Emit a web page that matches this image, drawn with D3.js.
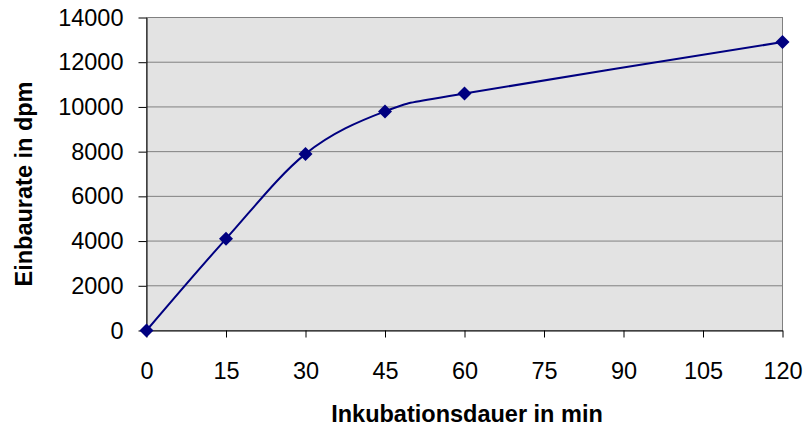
<!DOCTYPE html>
<html>
<head>
<meta charset="utf-8">
<script src="https://cdn.jsdelivr.net/npm/d3@7"></script>
<style>
  html, body { margin: 0; padding: 0; background: #fff; }
  svg { display: block; font-family: "Liberation Sans", Arial, sans-serif; }
</style>
</head>
<body>
<svg id="chart" width="808" height="429"></svg>
<script>
const minutes = [0, 15, 30, 45, 60, 120];
const dpm = [0, 4100, 7900, 9800, 10600, 12900];
const xTicks = [0, 15, 30, 45, 60, 75, 90, 105, 120];
const yTicks = [0, 2000, 4000, 6000, 8000, 10000, 12000, 14000];
const xTitle = "Inkubationsdauer in min";
const yTitle = "Einbaurate in dpm";

const svg = d3.select("#chart");
const L = 146.5, R = 782.5, T = 17.5, B = 330.5;

const x = d3.scaleLinear().domain([0, 120]).range([L, R]);
const y = d3.scaleLinear().domain([0, 14000]).range([B, T]);

svg.append("rect").attr("x", L).attr("y", T).attr("width", R - L).attr("height", B - T)
  .attr("fill", "#e3e3e3").attr("stroke", "#808080").attr("stroke-width", 1);

// gridlines
svg.append("g").selectAll("line").data(yTicks.filter(d => d > 0)).join("line")
  .attr("x1", L).attr("x2", R).attr("y1", d => y(d)).attr("y2", d => y(d))
  .attr("stroke", "#808080").attr("stroke-width", 1);

// y axis
const yAxis = svg.append("g").attr("transform", `translate(${L},0)`)
  .call(d3.axisLeft(y).tickValues(yTicks).tickSize(8).tickPadding(15).tickSizeOuter(0).tickFormat(d3.format("d")));
yAxis.select(".domain").attr("stroke", "#000");
yAxis.selectAll(".tick line").attr("stroke", "#000");
yAxis.selectAll("text").attr("font-size", 23.5).attr("fill", "#000")
  .attr("font-family", "'Liberation Sans', Arial, sans-serif");

// x axis
const xAxis = svg.append("g").attr("transform", `translate(0,${B})`)
  .call(d3.axisBottom(x).tickValues(xTicks).tickSize(7).tickPadding(25).tickSizeOuter(0));
xAxis.select(".domain").attr("stroke", "#000");
xAxis.selectAll(".tick line").attr("stroke", "#000");
xAxis.selectAll("text").attr("font-size", 23.5).attr("fill", "#000")
  .attr("font-family", "'Liberation Sans', Arial, sans-serif");

// line
const pts = minutes.map((m, i) => [m, dpm[i]]);
svg.append("path").datum(pts)
  .attr("d", d3.line().x(d => x(d[0])).y(d => y(d[1])).curve(d3.curveCardinal.tension(0)))
  .attr("fill", "none").attr("stroke", "#000080").attr("stroke-width", 2);

// markers
const s = 7;
svg.append("g").selectAll("path").data(pts).join("path")
  .attr("transform", d => `translate(${x(d[0])},${y(d[1])})`)
  .attr("d", `M0,${-s}L${s},0L0,${s}L${-s},0Z`)
  .attr("fill", "#000080");

// titles
svg.append("text").attr("x", 467).attr("y", 422).attr("text-anchor", "middle")
  .attr("font-size", 23.5).attr("font-weight", "bold").attr("fill", "#000").text(xTitle);
svg.append("text").attr("transform", `translate(32,184) rotate(-90)`)
  .attr("text-anchor", "middle").attr("font-size", 23.5).attr("font-weight", "bold")
  .attr("fill", "#000").text(yTitle);
</script>
</body>
</html>
